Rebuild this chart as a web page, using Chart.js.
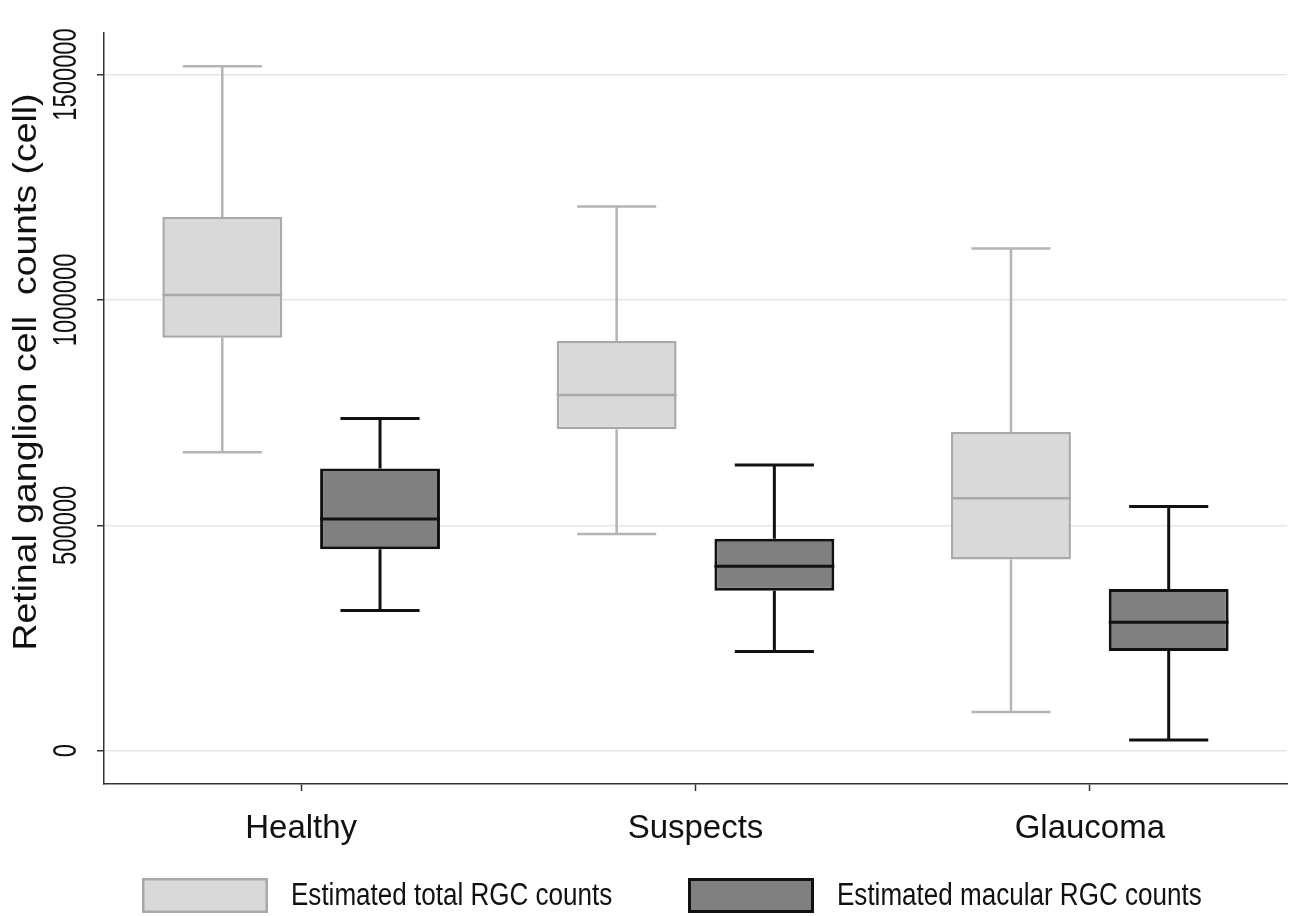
<!DOCTYPE html>
<html>
<head>
<meta charset="utf-8">
<script src="https://cdn.jsdelivr.net/npm/chart.js@4.4.1/dist/chart.umd.min.js"></script>
<style>
    body { margin: 0; background: #ffffff; }
    #chart { display: block; }
</style>
</head>
<body>
<canvas id="chart" width="1289" height="916"></canvas>
<script>
const groups = ['Healthy', 'Suspects', 'Glaucoma'];
const yTicks = [0, 500000, 1000000, 1500000];
const yTitle = 'Retinal ganglion cell  counts (cell)';

const totalMin = [662000, 481000, 86000];
const totalQ1 = [916000, 713000, 424000];
const totalMedian = [1011000, 789000, 560000];
const totalQ3 = [1184000, 909000, 707000];
const totalMax = [1518000, 1207000, 1114000];

const macularMin = [311000, 220000, 24000];
const macularQ1 = [447000, 355000, 221000];
const macularMedian = [514000, 409000, 285000];
const macularQ3 = [626000, 470000, 359000];
const macularMax = [737000, 634000, 542000];

const regularFont = '"Liberation Sans", Arial, sans-serif';

const ctx = document.getElementById('chart');

const boxStats = [
    {min: totalMin, median: totalMedian, max: totalMax, whisker: '#b4b4b4', width: 2.5},
    {min: macularMin, median: macularMedian, max: macularMax, whisker: '#111111', width: 3},
];

const whiskerPlugin = {
    id: 'whiskers',
    beforeDatasetsDraw(chart) {
        const c = chart.ctx;
        const y = chart.scales.y;
        boxStats.forEach((st, i) => {
            const meta = chart.getDatasetMeta(i);
            const ds = chart.data.datasets[i];
            meta.data.forEach((bar, j) => {
                const capHalf = bar.width * 0.33;
                const yMax = y.getPixelForValue(st.max[j]);
                const yMin = y.getPixelForValue(st.min[j]);
                const yTop = y.getPixelForValue(ds.data[j][1]);
                const yBot = y.getPixelForValue(ds.data[j][0]);
                c.save();
                c.strokeStyle = st.whisker;
                c.lineWidth = st.width;
                c.beginPath();
                c.moveTo(bar.x, yTop);
                c.lineTo(bar.x, yMax);
                c.moveTo(bar.x - capHalf, yMax);
                c.lineTo(bar.x + capHalf, yMax);
                c.moveTo(bar.x, yBot);
                c.lineTo(bar.x, yMin);
                c.moveTo(bar.x - capHalf, yMin);
                c.lineTo(bar.x + capHalf, yMin);
                c.stroke();
                c.restore();
            });
        });
    },
    afterDatasetsDraw(chart) {
        const c = chart.ctx;
        const y = chart.scales.y;
        boxStats.forEach((st, i) => {
            const meta = chart.getDatasetMeta(i);
            const ds = chart.data.datasets[i];
            meta.data.forEach((bar, j) => {
                const ym = y.getPixelForValue(st.median[j]);
                c.save();
                c.strokeStyle = ds.borderColor;
                c.lineWidth = ds.borderWidth;
                c.beginPath();
                c.moveTo(bar.x - bar.width / 2, ym);
                c.lineTo(bar.x + bar.width / 2, ym);
                c.stroke();
                c.restore();
            });
        });
    }
};

// rotated y labels and title drawn by hand so their length can follow the original face
const yLabelPlugin = {
    id: 'yLabels',
    afterDraw(chart) {
        const c = chart.ctx;
        const y = chart.scales.y;
        y.ticks.forEach((t) => {
            c.save();
            c.translate(67, y.getPixelForValue(t.value));
            c.rotate(-Math.PI / 2);
            c.scale(0.72, 1);
            c.font = '33px ' + regularFont;
            c.textAlign = 'center';
            c.textBaseline = 'middle';
            c.fillStyle = '#111111';
            c.fillText(String(t.value), 0, 0);
            c.restore();
        });

        c.save();
        c.translate(27, 372);
        c.rotate(-Math.PI / 2);
        c.scale(1.1, 1);
        c.font = '34px ' + regularFont;
        c.textAlign = 'center';
        c.textBaseline = 'middle';
        c.fillStyle = '#111111';
        c.fillText(yTitle, 0, 0);
        c.restore();
    }
};

const legendPlugin = {
    id: 'boxLegend',
    afterDraw(chart) {
        const c = chart.ctx;
        const starts = [142, 688];
        const boxW = 126, boxH = 35;
        const top = chart.height - 38;
        chart.data.datasets.forEach((ds, i) => {
            const x = starts[i];
            const lw = ds.borderWidth;
            c.save();
            c.fillStyle = ds.backgroundColor;
            c.fillRect(x, top, boxW, boxH);
            c.strokeStyle = ds.borderColor;
            c.lineWidth = lw;
            c.strokeRect(x + lw / 2, top + lw / 2, boxW - lw, boxH - lw);
            c.fillStyle = '#111111';
            c.font = '31px ' + regularFont;
            c.textBaseline = 'middle';
            c.translate(x + boxW + 23, top + boxH / 2 + 1);
            c.scale(0.84, 1);
            c.fillText(ds.label, 0, 0);
            c.restore();
        });
    }
};

new Chart(ctx, {
    type: 'bar',
    data: {
        labels: groups,
        datasets: [
            {
                label: 'Estimated total RGC counts',
                data: totalQ1.map((q, i) => [q, totalQ3[i]]),
                backgroundColor: '#d9d9d9',
                borderColor: '#a9a9a9',
                borderWidth: 2.5,
                borderSkipped: false,
                categoryPercentage: 0.8,
                barPercentage: 0.76,
            },
            {
                label: 'Estimated macular RGC counts',
                data: macularQ1.map((q, i) => [q, macularQ3[i]]),
                backgroundColor: '#808080',
                borderColor: '#111111',
                borderWidth: 3,
                borderSkipped: false,
                categoryPercentage: 0.8,
                barPercentage: 0.76,
            },
        ],
    },
    options: {
        responsive: false,
        animation: false,
        layout: {
            padding: {top: 33, right: 2, bottom: 60, left: 0},
        },
        plugins: {
            legend: {display: false},
            tooltip: {enabled: false},
        },
        scales: {
            x: {
                grid: {
                    offset: false,
                    drawOnChartArea: false,
                    drawTicks: true,
                    tickLength: 7,
                    tickColor: '#333333',
                    tickWidth: 1.5,
                },
                border: {color: '#333333', width: 1.5},
                ticks: {
                    color: '#111111',
                    padding: 18,
                    font: {family: regularFont, size: 33},
                },
                afterFit: (scale) => { scale.height = 72; },
            },
            y: {
                min: -73800,
                max: 1592000,
                afterBuildTicks: (scale) => {
                    scale.ticks = yTicks.map((v) => ({value: v}));
                },
                grid: {
                    color: '#e6e6e6',
                    lineWidth: 1.5,
                    tickLength: 7,
                    tickColor: '#333333',
                    tickWidth: 1.5,
                },
                border: {color: '#333333', width: 1.5},
                ticks: {display: false},
                afterFit: (scale) => { scale.width = 104; },
            },
        },
    },
    plugins: [whiskerPlugin, yLabelPlugin, legendPlugin],
});
</script>
</body>
</html>
